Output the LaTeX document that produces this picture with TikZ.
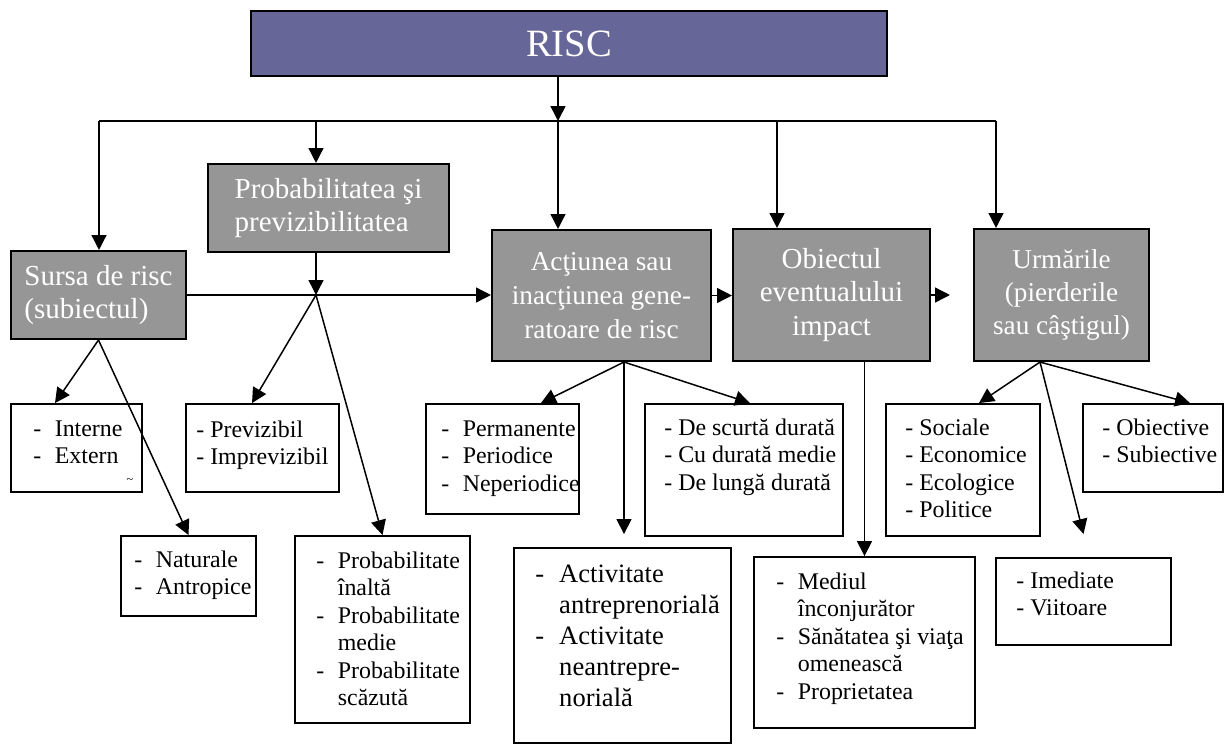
\documentclass[tikz,border=0pt]{standalone}
\usepackage{fontspec}
\setmainfont{Liberation Serif}
\usetikzlibrary{arrows.meta}
\definecolor{riscblue}{RGB}{102,102,153}
\definecolor{boxgray}{RGB}{150,150,150}
\tikzset{>={Triangle[length=8.5pt,width=8.5pt]}}
\tikzset{
  head/.style={draw=black, line width=1.2pt, fill=riscblue, text=white, inner sep=0pt, font=\fontsize{22}{26}\selectfont},
  graybox/.style={draw=black, line width=1.2pt, fill=boxgray, text=white, align=center, inner sep=0pt, font=\fontsize{16.5}{18.8}\selectfont},
  listbox/.style={draw=black, line width=1.1pt, fill=white, inner sep=0pt},
  listtext/.style={anchor=north west, align=left, inner sep=0pt, font=\fontsize{13.6}{15.6}\selectfont},
  link/.style={line width=0.85pt},
}
\newcommand{\tabdash}{\makebox[0.9em][l]{-}}
\newcommand{\tabgap}{\hspace*{0.9em}}

\begin{document}
\begin{tikzpicture}[x=0.02cm, y=-0.02cm]
    \useasboundingbox (0,0) rectangle (1226,744);

    % gray boxes
    \node[head, minimum width=12.72cm, minimum height=1.3cm] (risc) at (569,43.5) {RISC};
    \node[graybox, align=left, minimum width=3.5cm, minimum height=1.76cm] (sursa) at (98.5,295) {Sursa de risc\\(subiectul)};
    \node[graybox, align=left, minimum width=4.82cm, minimum height=1.76cm] (prob) at (328.5,208) {Probabilitatea şi\\previzibilitatea};
    \node[graybox, font=\fontsize{15.5}{19.2}\selectfont, minimum width=4.38cm, minimum height=2.62cm] (actiune) at (601.5,295.5) {Acţiunea sau\\inacţiunea gene-\\ratoare de risc};
    \node[graybox, minimum width=3.94cm, minimum height=2.64cm] (obiectul) at (831.5,295) {Obiectul\\eventualului\\impact};
    \node[graybox, font=\fontsize{15.5}{18.8}\selectfont, minimum width=3.5cm, minimum height=2.64cm] (urmari) at (1061.5,295) {Urmările\\(pierderile\\sau câştigul)};

    % white boxes
    \node[listbox, minimum width=2.62cm, minimum height=1.76cm] (interne) at (76.5,448) {};
    \node[listbox, minimum width=3.06cm, minimum height=1.76cm] (previz) at (262.5,448) {};
    \node[listbox, minimum width=2.7cm, minimum height=1.6cm] (natur) at (188.5,576) {};
    \node[listbox, minimum width=3.5cm, minimum height=3.74cm] (probab) at (382.5,629.5) {};
    \node[listbox, minimum width=3.06cm, minimum height=2.2cm] (perman) at (502.5,459) {};
    \node[listbox, minimum width=3.96cm, minimum height=2.64cm] (durata) at (744,470) {};
    \node[listbox, minimum width=4.34cm, minimum height=3.9cm] (activ) at (622.5,645.5) {};
    \node[listbox, minimum width=4.42cm, minimum height=3.42cm] (mediul) at (864.5,642.5) {};
    \node[listbox, minimum width=3.08cm, minimum height=2.64cm] (sociale) at (963,470) {};
    \node[listbox, minimum width=2.8cm, minimum height=1.76cm] (obiective) at (1153,448) {};
    \node[listbox, minimum width=3.5cm, minimum height=1.74cm] (imed) at (1083.5,601.5) {};

    \node[listtext] (interneT) at (33,420.5) {\tabdash Interne\\\tabdash Extern};
    \node[inner sep=0pt, font=\fontsize{7}{7}\selectfont] (tilda) at (130,481) {\textasciitilde};
    \node[listtext] (previzT) at (196,420.5) {- Previzibil\\- Imprevizibil};
    \node[listtext] (naturT) at (134,550.5) {\tabdash Naturale\\\tabdash Antropice};
    \node[listtext] (probabT) at (316,551.5) {\tabdash Probabilitate\\\tabgap înaltă\\\tabdash Probabilitate\\\tabgap medie\\\tabdash Probabilitate\\\tabgap scăzută};
    \node[listtext] (permanT) at (441,420.5) {\tabdash Permanente\\\tabdash Periodice\\\tabdash Neperiodice};
    \node[listtext] (durataT) at (664,418.5) {- De scurtă durată\\- Cu durată medie\\- De lungă durată};
    \node[listtext, font=\fontsize{15.1}{17.6}\selectfont] (activT) at (535,564.7) {\tabdash Activitate\\\tabgap antreprenorială\\\tabdash Activitate\\\tabgap neantrepre-\\\tabgap norială};
    \node[listtext] (mediulT) at (776,572.5) {\tabdash Mediul\\\tabgap înconjurător\\\tabdash Sănătatea şi viaţa\\\tabgap omenească\\\tabdash Proprietatea};
    \node[listtext] (socialeT) at (905,418.5) {- Sociale\\- Economice\\- Ecologice\\- Politice};
    \node[listtext] (obiectiveT) at (1102,418.5) {- Obiective\\- Subiective};
    \node[listtext] (imedT) at (1016,571.5) {- Imediate\\- Viitoare};

    % connectors
    \coordinate (busL) at (99,121);
    \coordinate (busR) at (996,121);
    \coordinate (hub) at (558,121);
    \coordinate (pdrop) at (316,121);
    \coordinate (odrop) at (777,121);
    \coordinate (pjoin) at (316,295);

    \draw[link,->] (risc.south -| hub) -- (hub);
    \draw[link] (busL) -- (busR);
    \draw[link,->] (busL) -- (busL |- sursa.north);
    \draw[link,->] (pdrop) -- (pdrop |- prob.north);
    \draw[link,->] (hub) -- (hub |- actiune.north);
    \draw[link,->] (odrop) -- (odrop |- obiectul.north);
    \draw[link,->] (busR) -- (busR |- urmari.north);

    \draw[link,->] (sursa.east) -- (sursa.east -| actiune.west);
    \draw[link,->] (prob.south -| pjoin) -- (pjoin);
    \draw[link,->] (pjoin) -- ([xshift=-0.21cm]previz.north);
    \draw[link,->] (pjoin) -- (probab.north);
    \draw[link,->] (sursa.south) -- ([xshift=-0.43cm]interne.north);
    \draw[link,->] (sursa.south) -- (natur.north);

    \draw[link,->] (actiune.east) -- (actiune.east -| obiectul.west);
    \coordinate (actfoot) at ([xshift=0.45cm]actiune.south);
    \draw[link,->] (actfoot) -- ([xshift=0.77cm]perman.north);
    \draw[link,->] (actfoot) -- ([yshift=0.26cm]activ.north -| actfoot);
    \draw[link,->] (actfoot) -- ([xshift=0.12cm]durata.north);

    \draw[link,->] (mediul.north |- obiectul.south) -- (mediul.north);
    \draw[link,->] (obiectul.east) -- ([xshift=-0.46cm]urmari.west |- obiectul.east);

    \coordinate (urmfoot) at ([xshift=-0.43cm]urmari.south);
    \draw[link,->] (urmfoot) -- ([xshift=0.32cm]sociale.north);
    \draw[link,->] (urmfoot) -- ([yshift=0.46cm]imed.north);
    \draw[link,->] (urmfoot) -- ([xshift=0.74cm]obiective.north);
\end{tikzpicture}
\end{document}
